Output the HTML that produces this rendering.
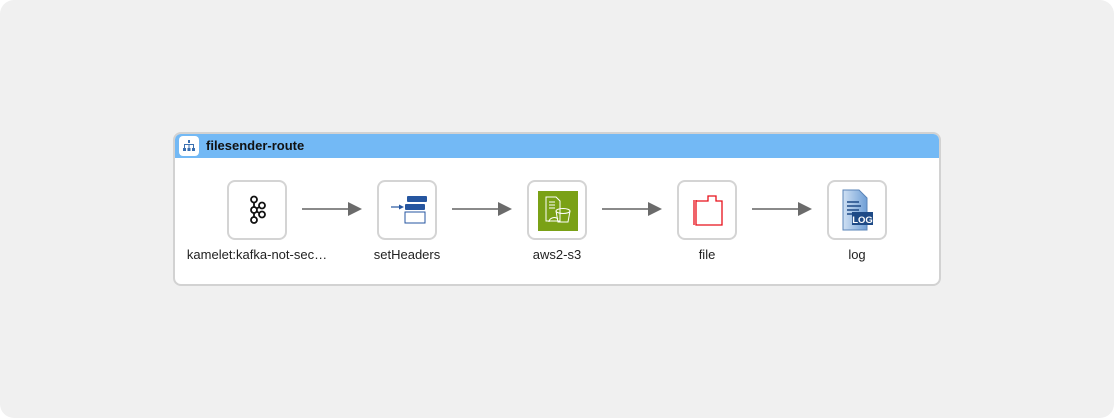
<!DOCTYPE html>
<html><head><style>
body{margin:0;width:1114px;height:418px;background:#fff;font-family:"Liberation Sans","DejaVu Sans",sans-serif;}
.bg{position:absolute;left:0;top:0;width:1114px;height:418px;background:#f0f0f0;border-radius:14px;}
.card{position:absolute;left:173px;top:132px;width:764px;height:150px;background:#fff;border:2px solid #d2d2d2;border-radius:8px;overflow:hidden;}
.hdr{position:absolute;left:0;top:0;width:766px;height:24px;background:#73b9f5;}
.hdr .ic{position:absolute;left:4px;top:2px;width:20px;height:20px;background:#fff;border-radius:4px;}
.hdr .t{position:absolute;left:31px;top:4px;font-size:13px;font-weight:bold;color:#111;}
.node{position:absolute;top:180px;width:56px;height:56px;border:2px solid #d4d4d4;border-radius:8px;background:#fff;}
.lbl{position:absolute;top:247px;width:160px;text-align:center;font-size:13px;color:#222;}
</style></head><body>
<div class="bg"></div>
<div class="card"><div class="hdr"><div class="ic"><svg width="20" height="20"><g fill="#3a6fb0"><rect x="9" y="4" width="2" height="3"/><rect x="5" y="8" width="10" height="1"/><rect x="5" y="8" width="1" height="4"/><rect x="9.5" y="8" width="1" height="4"/><rect x="14" y="8" width="1" height="4"/><rect x="4" y="12" width="3" height="3"/><rect x="8.5" y="12" width="3" height="3"/><rect x="13" y="12" width="3" height="3"/></g></svg></div><div class="t">filesender-route</div></div></div>
<div class="node" style="left:227px"><svg width="56" height="56"><g fill="none" stroke="#111" stroke-width="1.8"><circle cx="25" cy="17.5" r="3"/><circle cx="25" cy="38" r="3"/><circle cx="25" cy="28" r="3"/><circle cx="33" cy="23.5" r="3"/><circle cx="33" cy="32.5" r="3"/><line x1="25" y1="20.5" x2="25" y2="25"/><line x1="25" y1="31" x2="25" y2="35"/><line x1="27.6" y1="26.5" x2="30.4" y2="25"/><line x1="27.6" y1="29.5" x2="30.4" y2="31"/></g></svg></div>
<div class="node" style="left:377px"><svg width="56" height="56"><rect x="28" y="14" width="20" height="6" rx="1" fill="#2656a0"/><rect x="26" y="22" width="20" height="6" rx="1" fill="#2656a0"/><rect x="26" y="30" width="20" height="11" fill="#fff" stroke="#2656a0" stroke-width="1"/><line x1="12" y1="25" x2="21" y2="25" stroke="#2656a0" stroke-width="1.2"/><path d="M20 22.5 L25 25 L20 27.5Z" fill="#2656a0"/></svg></div>
<div class="node" style="left:527px"><svg width="56" height="56"><rect x="9" y="9" width="40" height="40" fill="#7aa116"/><g fill="none" stroke="#fff" stroke-width="1"><path d="M17 15h10l4 4v20H17z"/><line x1="20" y1="20" x2="26" y2="20"/><line x1="20" y1="23" x2="26" y2="23"/><line x1="20" y1="26" x2="26" y2="26"/><ellipse cx="34" cy="29" rx="7" ry="2.5"/><path d="M27 29l2 11h10l2-11"/><path d="M20 40c0-4 6-6 9-3"/></g></svg></div>
<div class="node" style="left:677px"><svg width="56" height="56"><path d="M15 18V43M17 18V43H43V19H37V14H29V19H17" fill="none" stroke="#e8101a" stroke-width="1.3"/></svg></div>
<div class="node" style="left:827px"><svg width="56" height="56"><defs><linearGradient id="g" x1="0" x2="1"><stop offset="0" stop-color="#cfe0f3"/><stop offset="1" stop-color="#6f9fd6"/></linearGradient></defs><path d="M14 8h16l8 8v32H14z" fill="url(#g)" stroke="#5a84b8"/><g stroke="#1e4a86" stroke-width="1.5"><line x1="18" y1="20" x2="30" y2="20"/><line x1="18" y1="24" x2="32" y2="24"/><line x1="18" y1="28" x2="30" y2="28"/><line x1="18" y1="32" x2="24" y2="32"/></g><rect x="23" y="30" width="21" height="13" fill="#1e4a86"/><text x="33.5" y="41" text-anchor="middle" font-size="9.5" font-weight="bold" fill="#fff" font-family="Liberation Sans">LOG</text></svg></div>
<svg style="position:absolute;left:0;top:0" width="1114" height="418"><g fill="#6b6b6b" stroke="#8a8a8a" stroke-width="2"><line x1="302" y1="209" x2="350" y2="209"/><path d="M348 202L362 209L348 216Z" stroke="none"/><line x1="452" y1="209" x2="500" y2="209"/><path d="M498 202L512 209L498 216Z" stroke="none"/><line x1="602" y1="209" x2="650" y2="209"/><path d="M648 202L662 209L648 216Z" stroke="none"/><line x1="752" y1="209" x2="800" y2="209"/><path d="M798 202L812 209L798 216Z" stroke="none"/></g></svg>
<div class="lbl" style="left:177px">kamelet:kafka-not-sec…</div>
<div class="lbl" style="left:327px">setHeaders</div>
<div class="lbl" style="left:477px">aws2-s3</div>
<div class="lbl" style="left:627px">file</div>
<div class="lbl" style="left:777px">log</div>
</body></html>
